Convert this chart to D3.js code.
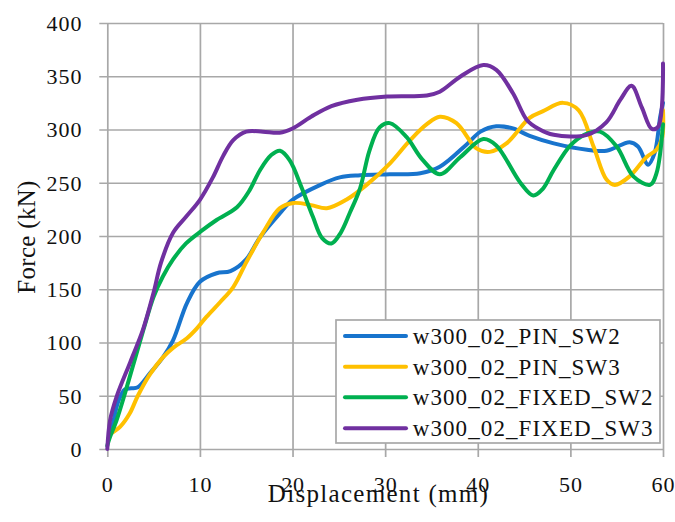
<!DOCTYPE html>
<html>
<head>
<meta charset="utf-8">
<script src="https://cdn.jsdelivr.net/npm/d3@7/dist/d3.min.js"></script>
<style>
  html, body { margin: 0; padding: 0; background: #fff; }
  svg { display: block; }
  svg text { font-family: "Liberation Serif", serif !important; fill: #111; }
</style>
</head>
<body>
<svg id="chart" width="675" height="522" font-family="Liberation Serif, serif"></svg>
<script>
// ---- data (displacement mm, force kN) ----
const seriesNames = ["w300_02_PIN_SW2", "w300_02_PIN_SW3", "w300_02_FIXED_SW2", "w300_02_FIXED_SW3"];
const seriesColors = ["#1874cd", "#ffc000", "#00b050", "#7030a0"];

const pinSW2 = [[0.1,9],[0.5,20],[1.2,45],[1.9,56],[2.6,57],[3.3,58],[4.6,71],[6.0,86],[7.1,102],[8.6,137],[10,157],[11.8,165],[13.3,167],[15,178],[16.5,199],[18.6,221],[20,234],[23,248],[25.1,255],[27.3,257],[30.5,258],[33.8,259],[35.9,265],[38.8,286],[40.3,298],[42,303],[43.8,301],[45.6,294],[48.2,287],[51.8,281],[53.9,280],[56.4,288],[57.3,284],[58.4,267],[59.1,278],[59.7,312],[60,325]];

const pinSW3 = [[0.3,14],[1.4,21],[2.4,33],[3.3,50],[4.6,70],[6.0,86],[7.1,95],[8.6,104],[9.65,113],[10.7,124],[12.2,138],[13.6,152],[15.05,176],[16.8,203],[18.6,226],[20.1,231],[22,229],[23.7,226],[25.8,234],[28,248],[30.5,268],[32.7,290],[34.5,305],[35.9,312],[37.7,306],[39.9,282],[41.3,279],[43.1,287],[45.6,311],[47,317],[49.2,325],[50.9,318],[52.5,284],[53.9,253],[54.8,248],[56.4,256],[58.2,274],[59.3,281],[59.9,292],[60,318]];

const fixedSW2 = [[0,3],[0.2,9],[1.0,27],[2,55],[3.9,112],[5,143],[6,162],[7.1,178],[8.5,193],[10.2,205],[11.8,215],[14,227],[15.3,242],[16.5,262],[17.7,276],[18.65,280],[19.7,271],[21,245],[22.2,218],[23.2,198],[24.2,193],[25.2,203],[26.2,222],[27.3,245],[28.3,280],[29.4,302],[30.5,306],[32.3,293],[34,272],[35.9,258],[38.1,274],[40.6,291],[42,285],[44.6,250],[46,238],[47,244],[48.2,262],[50,285],[51.5,295],[53.2,298],[55,284],[56.8,256],[58.6,248],[59.3,259],[60,305]];

const fixedSW3 = [[0,0],[0.3,27],[1.0,49],[2.5,82],[3.85,112],[5,147],[5.8,175],[7.1,203],[8.5,218],[10,234],[11.4,255],[12.5,275],[13.6,290],[15,298],[16.8,298],[18.6,297],[20,301],[22,312],[24.2,322],[27,328],[30.2,331],[34.5,332],[35.9,335.5],[38.1,349.6],[40.6,360.5],[42,356],[43.8,334],[45.3,309],[46.5,301],[48.2,295],[51.8,295],[53.9,307],[55.4,328],[56.6,341],[57.7,321],[58.8,300.5],[59.5,303],[60,362]];

const seriesData = [pinSW2, pinSW3, fixedSW2, fixedSW3];

const xTicks = [0, 10, 20, 30, 40, 50, 60];
const yTicks = [0, 50, 100, 150, 200, 250, 300, 350, 400];
const xTitle = "Displacement (mm)";
const yTitle = "Force (kN)";

// ---- layout ----
const FONT = "Liberation Serif, serif";
const svg = d3.select("#chart");
const L = 107.3, R = 663, T = 23, B = 449, tick = 8;
const x = d3.scaleLinear().domain([0, 60]).range([L, R]);
const y = d3.scaleLinear().domain([0, 400]).range([B, T]);
const gridColor = "#a8a8a8";

// y grid + labels
const gy = svg.append("g").attr("transform", `translate(${L - tick},0)`)
  .call(d3.axisLeft(y).tickValues(yTicks).tickSize(-(R - L + tick)).tickPadding(17))
  .attr("font-family", FONT).attr("font-size", 22);
gy.select(".domain").remove();
gy.selectAll(".tick line").attr("stroke", gridColor).attr("stroke-width", 1.7);
gy.selectAll(".tick text").attr("font-family", FONT).attr("font-size", 22).attr("letter-spacing", 0.9)
  .attr("fill", "#111").attr("dy", "0.33em");

// x grid + labels
const gx = svg.append("g").attr("transform", `translate(0,${B + tick})`)
  .call(d3.axisBottom(x).tickValues(xTicks).tickSize(-(B - T + tick)).tickPadding(19))
  .attr("font-family", FONT).attr("font-size", 22);
gx.select(".domain").remove();
gx.selectAll(".tick line").attr("stroke", gridColor).attr("stroke-width", 1.7);
gx.selectAll(".tick text").attr("font-family", FONT).attr("font-size", 22).attr("letter-spacing", 0.9)
  .attr("fill", "#111").attr("dy", "0.71em");

// series
const line = d3.line().x(d => x(d[0])).y(d => y(d[1])).curve(d3.curveCatmullRom.alpha(0.5));
svg.append("g").selectAll("path").data(seriesData).join("path")
  .attr("d", d => line(d))
  .attr("fill", "none")
  .attr("stroke", (d, i) => seriesColors[i])
  .attr("stroke-width", 4)
  .attr("stroke-linejoin", "round")
  .attr("stroke-linecap", "round");

// axis titles
svg.append("text").attr("x", 378.5).attr("y", 502).attr("text-anchor", "middle")
  .attr("font-family", FONT).attr("font-size", 25).attr("letter-spacing", 1.3).text(xTitle);
svg.append("text").attr("transform", "translate(35,237) rotate(-90)").attr("text-anchor", "middle")
  .attr("font-family", FONT).attr("font-size", 25).attr("letter-spacing", 0.3).text(yTitle);

// legend
const lg = svg.append("g");
lg.append("rect").attr("x", 336).attr("y", 320).attr("width", 324).attr("height", 123)
  .attr("fill", "#fff").attr("stroke", gridColor).attr("stroke-width", 1.7);
const rowY = [336, 366.7, 397.3, 428.3];
seriesNames.forEach((name, i) => {
  lg.append("line").attr("x1", 345).attr("x2", 406).attr("y1", rowY[i]).attr("y2", rowY[i])
    .attr("stroke", seriesColors[i]).attr("stroke-width", 4).attr("stroke-linecap", "round");
  lg.append("text").attr("x", 412.7).attr("y", rowY[i] + 8)
    .attr("font-family", FONT).attr("font-size", 23)
    .attr("letter-spacing", 1.1).text(name);
});
</script>
</body>
</html>
